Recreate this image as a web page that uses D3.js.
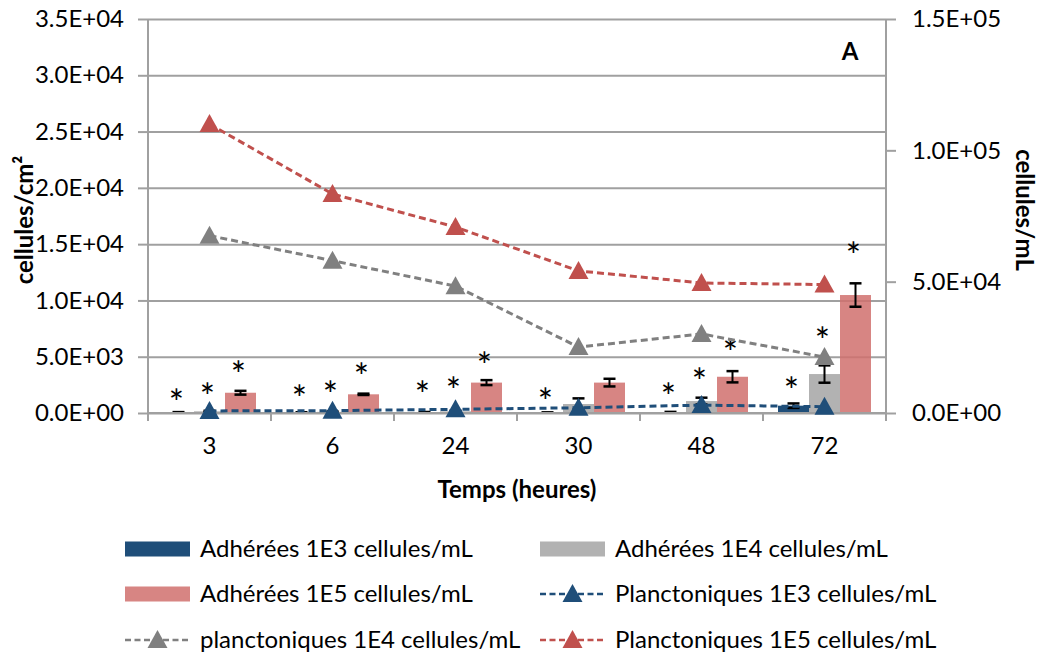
<!DOCTYPE html>
<html>
<head>
<meta charset="utf-8">
<script src="https://cdn.jsdelivr.net/npm/d3@7"></script>
<style>
  html, body { margin: 0; padding: 0; background: #fff; }
  svg { display: block; }
  text { font-family: Lato, "Open Sans", sans-serif; fill: #000; }
</style>
</head>
<body>
<svg id="chart" width="1041" height="660"></svg>
<script>
// ---------------- DATA ----------------
const categories = ["3", "6", "24", "30", "48", "72"];

// Adhered cells (left axis, cellules/cm²)
const adhBlue  = [20, 15, 30, 20, 40, 650];
const adhBlueErr = [60, 50, 60, 40, 60, 200];
const adhGray  = [150, 100, 150, 800, 1060, 3460];
const adhGrayErr = [50, 50, 50, 500, 300, 770];
const adhRed   = [1800, 1660, 2700, 2700, 3220, 10480];
const adhRedErr = [170, 60, 220, 340, 500, 1040];

// Significance asterisks (left-axis level of each asterisk, null = none)
const starBlue = [1600, 1980, 2300, 1690, 2130, 2660];
const starGray = [2130, 2300, 2660, null, 3460, 7100];
const starRed  = [4085, 3900, 4880, null, 6040, 14650];

// Planktonic cells (right axis, cellules/mL)
const plaBlue = [800, 900, 1400, 2000, 3000, 2400];
const plaGray = [67500, 58000, 48300, 25100, 30100, 21300];
const plaRed  = [110000, 83400, 70800, 54100, 49500, 48900];

const leftTicks  = [0, 5000, 10000, 15000, 20000, 25000, 30000, 35000];
const rightTicks = [0, 50000, 100000, 150000];

const legendLabels = [
  "Adhérées 1E3 cellules/mL", "Adhérées 1E4 cellules/mL",
  "Adhérées 1E5 cellules/mL", "Planctoniques 1E3 cellules/mL",
  "planctoniques 1E4 cellules/mL", "Planctoniques 1E5 cellules/mL"
];

// ---------------- STYLE ----------------
const C_BLUE = "#1F4E79", C_GRAY_BAR = "#B2B2B2", C_RED_BAR = "#D0706D";
const C_GRAY_LINE = "#808080", C_RED_LINE = "#C0504D", C_BLUE_LINE = "#1F4E79";
const GRID = "#A0A0A0";
const FS = 24;

const svg = d3.select("#chart");
const L = 148, R = 886, T = 19, B = 413;

const x0 = d3.scaleBand().domain(categories).range([L, R]).paddingInner(0).paddingOuter(0);
const series = ["blue", "gray", "red"];
const x1 = d3.scaleBand().domain(series).range([x0.bandwidth()/2 - 46.5, x0.bandwidth()/2 + 46.5]);
const yL = d3.scaleLinear().domain([0, 35000]).range([B, T]);
const yR = d3.scaleLinear().domain([0, 150000]).range([B, T]);

function fmtE(v) {
  if (v === 0) return "0.0E+00";
  const e = Math.floor(Math.log10(v));
  const m = v / Math.pow(10, e);
  return m.toFixed(1) + "E+" + String(e).padStart(2, "0");
}

// Gridlines
svg.append("g").attr("transform", `translate(${L},0)`)
  .call(d3.axisLeft(yL).tickValues(leftTicks).tickSize(-(R - L)).tickFormat(""))
  .call(g => g.select(".domain").remove())
  .call(g => g.selectAll("line").attr("stroke", GRID).attr("stroke-width", 2));

// Bars
const barSets = [
  {key: "blue", vals: adhBlue, err: adhBlueErr, color: C_BLUE, op: 1},
  {key: "gray", vals: adhGray, err: adhGrayErr, color: C_GRAY_BAR, op: 1},
  {key: "red",  vals: adhRed,  err: adhRedErr,  color: C_RED_BAR, op: 0.85}
];
const gBars = svg.append("g");
barSets.forEach(s => {
  gBars.selectAll(null).data(categories).enter().append("rect")
    .attr("x", (c) => x0(c) + x1(s.key))
    .attr("width", x1.bandwidth())
    .attr("y", (c, i) => yL(s.vals[i]))
    .attr("height", (c, i) => B - yL(s.vals[i]))
    .attr("fill", s.color).attr("fill-opacity", s.op);
});

// Error bars
const gErr = svg.append("g").attr("stroke", "#000").attr("stroke-width", 2);
barSets.forEach(s => {
  categories.forEach((c, i) => {
    const cx = x0(c) + x1(s.key) + x1.bandwidth()/2;
    const lo = Math.max(0, s.vals[i] - s.err[i]), hi = s.vals[i] + s.err[i];
    gErr.append("line").attr("x1", cx).attr("x2", cx).attr("y1", yL(lo)).attr("y2", yL(hi));
    gErr.append("line").attr("x1", cx - 6).attr("x2", cx + 6).attr("y1", yL(hi)).attr("y2", yL(hi)).attr("stroke-width", 2.5);
    if (s.vals[i] - s.err[i] > 0)
      gErr.append("line").attr("x1", cx - 6).attr("x2", cx + 6).attr("y1", yL(lo)).attr("y2", yL(lo)).attr("stroke-width", 2.5);
  });
});

// Asterisks
const starSets = [{key: "blue", vals: starBlue}, {key: "gray", vals: starGray}, {key: "red", vals: starRed}];
const gStar = svg.append("g");
starSets.forEach(s => {
  categories.forEach((c, i) => {
    if (s.vals[i] == null) return;
    gStar.append("text")
      .attr("x", x0(c) + x1(s.key) + x1.bandwidth()/2 - 2)
      .attr("y", yL(s.vals[i]) + 21)
      .attr("text-anchor", "middle")
      .attr("font-size", 36)
      .text("*");
  });
});

// Axes
const axL = svg.append("g").attr("transform", `translate(${L},0)`)
  .call(d3.axisLeft(yL).tickValues(leftTicks).tickFormat(fmtE).tickSize(10).tickPadding(14));
const axR = svg.append("g").attr("transform", `translate(${R},0)`)
  .call(d3.axisRight(yR).tickValues(rightTicks).tickFormat(fmtE).tickSize(10).tickPadding(16));
const axB = svg.append("g").attr("transform", `translate(0,${B})`)
  .call(d3.axisBottom(x0).tickSize(0).tickPadding(24));
[axL, axR, axB].forEach(a => {
  a.select(".domain").attr("stroke", GRID).attr("stroke-width", 2);
  a.selectAll(".tick line").attr("stroke", GRID).attr("stroke-width", 2);
  a.selectAll(".tick text").attr("font-size", FS).attr("font-family", "Lato, sans-serif").attr("fill", "#000");
});
axL.select(".domain").attr("d", `M0,${T}V${B}`);
axR.select(".domain").attr("d", `M0,${T}V${B}`);
axB.select(".domain").attr("d", `M${L},0H${R}`);
// category boundary ticks
const bounds = categories.map(c => x0(c)).concat([R]);
svg.append("g").selectAll("line").data(bounds).enter().append("line")
  .attr("x1", d => d).attr("x2", d => d).attr("y1", B).attr("y2", B + 8)
  .attr("stroke", GRID).attr("stroke-width", 2);

// Lines (right axis)
const tri = "M0,-10L10,8L-10,8Z";
const lineSets = [
  {vals: plaBlue, color: C_BLUE_LINE},
  {vals: plaGray, color: C_GRAY_LINE},
  {vals: plaRed,  color: C_RED_LINE}
];
const lineGen = d3.line().x((d, i) => x0(categories[i]) + x0.bandwidth()/2).y(d => yR(d));
lineSets.forEach(s => {
  svg.append("path").datum(s.vals).attr("d", lineGen)
    .attr("fill", "none").attr("stroke", s.color).attr("stroke-width", 3)
    .attr("stroke-dasharray", "7,4");
  svg.append("g").selectAll("path").data(s.vals).enter().append("path")
    .attr("d", tri)
    .attr("transform", (d, i) => `translate(${x0(categories[i]) + x0.bandwidth()/2},${yR(d)})`)
    .attr("fill", s.color);
});

// Titles
svg.append("text").attr("transform", "translate(33,220) rotate(-90)")
  .attr("text-anchor", "middle").attr("font-size", FS).attr("font-weight", "bold")
  .text("cellules/cm²");
svg.append("text").attr("transform", "translate(1016,210) rotate(90)")
  .attr("text-anchor", "middle").attr("font-size", FS).attr("font-weight", "bold")
  .text("cellules/mL");
svg.append("text").attr("x", 517).attr("y", 498)
  .attr("text-anchor", "middle").attr("font-size", FS).attr("font-weight", "bold")
  .text("Temps (heures)");
svg.append("text").attr("x", 850).attr("y", 60)
  .attr("text-anchor", "middle").attr("font-size", FS).attr("font-weight", "bold")
  .text("A");

// Legend
const colX = [125, 540], rowY = [549, 594, 640];
const legendKinds = [
  {type: "rect", color: C_BLUE}, {type: "rect", color: C_GRAY_BAR},
  {type: "rect", color: C_RED_BAR, op: 0.85}, {type: "line", color: C_BLUE_LINE},
  {type: "line", color: C_GRAY_LINE}, {type: "line", color: C_RED_LINE}
];
legendLabels.forEach((lab, k) => {
  const gx = colX[k % 2], gy = rowY[Math.floor(k / 2)];
  const g = svg.append("g").attr("transform", `translate(${gx},${gy})`);
  const kind = legendKinds[k];
  if (kind.type === "rect") {
    g.append("rect").attr("x", 0).attr("y", -7.5).attr("width", 65).attr("height", 15)
      .attr("fill", kind.color).attr("fill-opacity", kind.op || 1);
  } else {
    g.append("line").attr("x1", 0).attr("x2", 65).attr("y1", 0).attr("y2", 0)
      .attr("stroke", kind.color).attr("stroke-width", 2.5).attr("stroke-dasharray", "6,3.5");
    g.append("path").attr("d", tri).attr("transform", "translate(32.5,0)").attr("fill", kind.color);
  }
  g.append("text").attr("x", 75).attr("y", 0).attr("dy", "0.35em")
    .attr("font-size", FS).text(lab);
});
</script>
</body>
</html>
